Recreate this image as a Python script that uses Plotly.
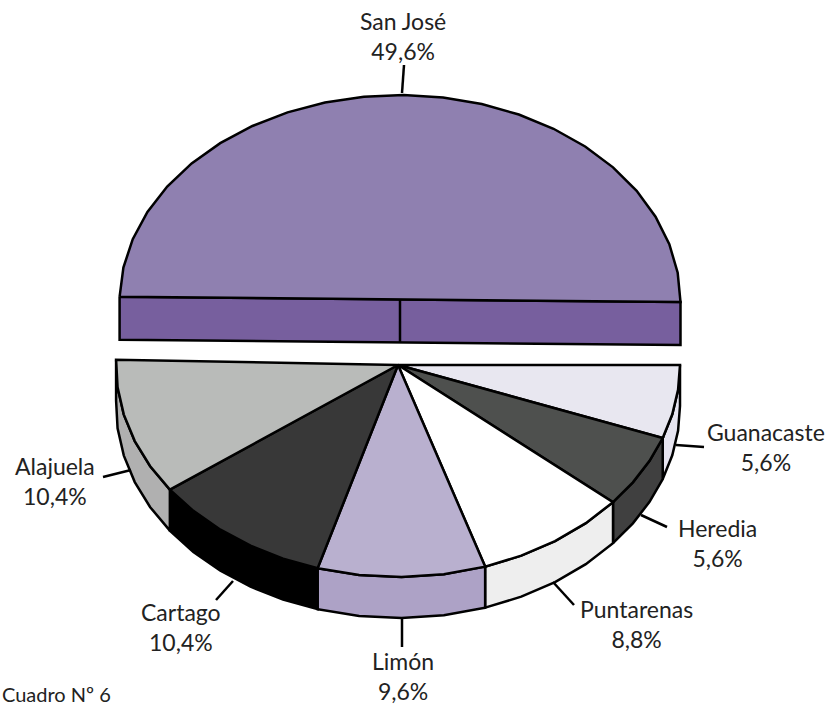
import numpy as np
import plotly.graph_objects as go

# Data
provinces = ["Guanacaste", "Heredia", "Puntarenas", "Limón", "Cartago", "Alajuela", "San José"]
shares = [5.6, 5.6, 8.8, 9.6, 10.4, 10.4, 49.6]
share_labels = ["5,6%", "5,6%", "8,8%", "9,6%", "10,4%", "10,4%", "49,6%"]

# Styles
top_colors = ["#E8E7F0", "#4E504E", "#FFFFFF", "#B9B0CF", "#383838", "#B9BBB9", "#8F80B0"]
side_colors = ["#E6E4F0", "#404040", "#EEEEEE", "#ADA2C6", "#000000", "#B0B0B0", "#775F9E"]

# Layout (pixels in the 828x705 page)
LOWER = dict(cx=398.0, cy=365.0, rx=282.0, ry=212.0, depth=41.0)
UPPER = dict(cx=400.0, cy=302.0, rx=280.5, ry=207.0, depth=43.0)
label_xy = [(766, 447), (717, 543), (636, 624), (403, 676), (181, 627), (55, 481), (403, 36)]
leader_xy = [((676, 445), (704, 447)), ((641, 515), (667, 527)), ((553, 582), (574, 605)),
             ((402, 618), (402, 647)), ((233, 581), (216, 600)), ((131, 470), (103, 477)),
             ((402, 93), (404, 65))]
STEP = 8.0
LW = 2.5

def arc(g, a0, a1, dy=0.0):
    n = max(2, int(round((a1 - a0) / STEP)))
    t = np.radians(np.linspace(a0, a1, n + 1))
    return g["cx"] + g["rx"] * np.cos(t), g["cy"] + g["ry"] * np.sin(t) + dy

def poly(fig, x, y, fill, name):
    fig.add_trace(go.Scatter(x=list(x), y=list(y), mode="lines", fill="toself", fillcolor=fill,
                             line=dict(color="#000000", width=LW), name=name, hoverinfo="name"))

fig = go.Figure()
edges = np.concatenate([[0.0], np.cumsum(shares)]) * 3.6

# lower (exploded) group: sides first, tops over them
for i in range(6):
    x, y = arc(LOWER, edges[i], edges[i + 1])
    xb, yb = arc(LOWER, edges[i], edges[i + 1], LOWER["depth"])
    poly(fig, np.r_[x, xb[::-1], x[0]], np.r_[y, yb[::-1], y[0]], side_colors[i], provinces[i])
for i in range(6):
    x, y = arc(LOWER, edges[i], edges[i + 1])
    poly(fig, np.r_[LOWER["cx"], x, LOWER["cx"]], np.r_[LOWER["cy"], y, LOWER["cy"]], top_colors[i], provinces[i])

# upper (San José) slice
x, y = arc(UPPER, edges[6], edges[7])
d = UPPER["depth"]
poly(fig, [x[0], x[-1], x[-1], x[0], x[0]], [y[0], y[-1], y[-1] + d, y[0] + d, y[0]], side_colors[6], provinces[6])
poly(fig, np.r_[x, x[0]], np.r_[y, y[0]], top_colors[6], provinces[6])
ym = (y[0] + y[-1]) / 2
fig.add_trace(go.Scatter(x=[UPPER["cx"], UPPER["cx"]], y=[ym, ym + d], mode="lines",
                         line=dict(color="#000000", width=LW), hoverinfo="skip"))

# leader lines
for (a, b) in leader_xy:
    fig.add_trace(go.Scatter(x=[a[0], b[0]], y=[a[1], b[1]], mode="lines",
                             line=dict(color="#000000", width=LW), hoverinfo="skip"))

FONT = "Lato"
ann = [dict(x=px, y=py, text=f"{n}<br>{s}", showarrow=False, xanchor="center", yanchor="middle",
            font=dict(family=FONT, size=23, color="#222222"))
       for n, s, (px, py) in zip(provinces, share_labels, label_xy)]
ann.append(dict(x=0, y=694, text="Cuadro Nº 6", showarrow=False, xanchor="left", yanchor="middle",
                font=dict(family=FONT, size=20, color="#222222")))

fig.update_layout(
    width=828, height=705, margin=dict(l=0, r=0, t=0, b=0), showlegend=False,
    paper_bgcolor="#FFFFFF", plot_bgcolor="#FFFFFF", annotations=ann,
    xaxis=dict(range=[0, 828], visible=False, fixedrange=True),
    yaxis=dict(range=[705, 0], visible=False, fixedrange=True),
)
fig.write_html("out.html", config=dict(displayModeBar=False),
               post_script="document.documentElement.style.overflow='hidden';document.body.style.margin='0';")
